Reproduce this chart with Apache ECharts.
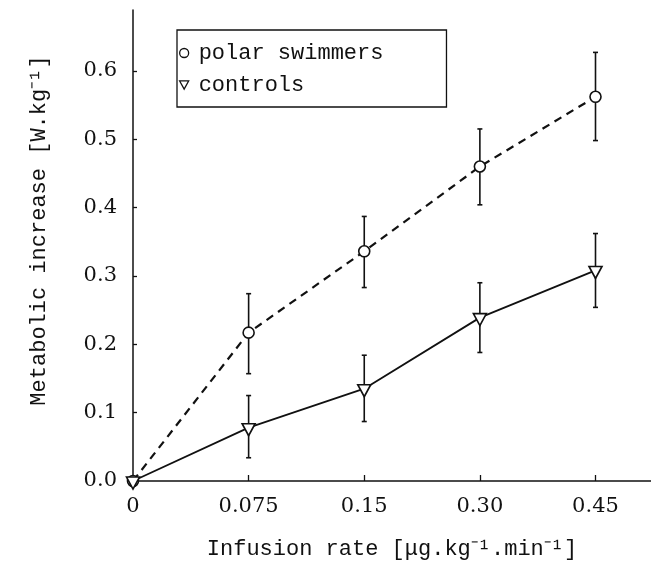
<!DOCTYPE html>
<html>
<head>
<meta charset="utf-8">
<script src="https://cdn.jsdelivr.net/npm/echarts@6/dist/echarts.min.js"></script>
<style>html,body{margin:0;padding:0;background:#fff;}#c{width:651px;height:570px;}</style>
</head>
<body>
<div id="c"></div>
<script>
// Category positions (equally spaced in the original figure)
var categories = ['0', '0.075', '0.15', '0.30', '0.45'];
var yTicks = [0, 0.1, 0.2, 0.3, 0.4, 0.5, 0.6];

var polarMean = [0, 0.217, 0.336, 0.460, 0.562];
var polarLow  = [null, 0.157, 0.283, 0.404, 0.498];
var polarHigh = [null, 0.274, 0.387, 0.515, 0.627];

var controlMean = [0, 0.078, 0.135, 0.239, 0.308];
var controlLow  = [null, 0.034, 0.087, 0.188, 0.254];
var controlHigh = [null, 0.125, 0.184, 0.290, 0.362];

var FONT = 'DejaVu Serif';
var MONO = 'Liberation Mono';
var INK = '#111';
var downTri = 'path://M0,0L10,0L5,9Z';

function pts(arr) { return arr.map(function (v, i) { return [i, v]; }); }
function errs(lo, hi) {
  var out = [];
  for (var i = 0; i < lo.length; i++) if (lo[i] != null) out.push([i, lo[i], hi[i]]);
  return out;
}
function errRender(params, api) {
  var x = api.value(0);
  var a = api.coord([x, api.value(1)]);
  var b = api.coord([x, api.value(2)]);
  var st = { stroke: INK, lineWidth: 1.6 };
  return { type: 'group', children: [
    { type: 'line', shape: { x1: a[0], y1: a[1], x2: b[0], y2: b[1] }, style: st },
    { type: 'line', shape: { x1: a[0] - 2.5, y1: a[1], x2: a[0] + 2.5, y2: a[1] }, style: st },
    { type: 'line', shape: { x1: b[0] - 2.5, y1: b[1], x2: b[0] + 2.5, y2: b[1] }, style: st }
  ]};
}

var chart = echarts.init(document.getElementById('c'), null, { renderer: 'canvas' });
chart.setOption({
  backgroundColor: '#fff',
  animation: false,
  grid: { left: 133, right: 0, top: 10, bottom: 89, containLabel: false },
  xAxis: {
    type: 'value', min: 0, max: 4.48,
    axisLine: { lineStyle: { color: INK, width: 1.5 } },
    axisTick: { inside: true, length: 6, lineStyle: { color: INK, width: 1.3 }, customValues: [0, 1, 2, 3, 4] },
    axisLabel: {
      customValues: [0, 1, 2, 3, 4],
      formatter: function (v) { return categories[Math.round(v)]; },
      fontFamily: FONT, fontSize: 21, color: INK, margin: 15
    },
    splitLine: { show: false },
    name: 'Infusion rate [\u03bcg.kg\u207b\u00b9.min\u207b\u00b9]',
    nameLocation: 'middle', nameGap: 57,
    nameTextStyle: { fontFamily: MONO, fontSize: 22, color: INK }
  },
  yAxis: {
    type: 'value', min: 0, max: 0.689,
    axisLine: { show: true, lineStyle: { color: INK, width: 1.5 } },
    axisTick: { show: true, inside: true, length: 4, lineStyle: { color: INK, width: 1.3 }, customValues: yTicks },
    axisLabel: {
      customValues: yTicks,
      formatter: function (v) { return v.toFixed(1); },
      fontFamily: FONT, fontSize: 21, color: INK, margin: 16
    },
    splitLine: { show: false },
    name: 'Metabolic increase [W.kg\u207b\u00b9]',
    nameLocation: 'middle', nameGap: 83,
    nameTextStyle: { fontFamily: MONO, fontSize: 22, color: INK, padding: [0, 0, 0, 30] }
  },
  legend: {
    left: 177, top: 30, orient: 'vertical',
    padding: [12, 63, 11, 2], itemGap: 10,
    itemWidth: 9, itemHeight: 9,
    borderColor: INK, borderWidth: 1.3,
    textStyle: { fontFamily: MONO, fontSize: 22, color: INK, padding: [0, 0, 0, 5] },
    itemStyle: { color: '#fff', borderColor: INK, borderWidth: 1.3 },
    data: [
      { name: 'polar swimmers', icon: 'circle' },
      { name: 'controls', icon: downTri }
    ]
  },
  series: [
    { type: 'custom', name: 'polarErr', renderItem: errRender, data: errs(polarLow, polarHigh), z: 1, silent: true },
    { type: 'custom', name: 'controlErr', renderItem: errRender, data: errs(controlLow, controlHigh), z: 1, silent: true },
    {
      type: 'line', name: 'polar swimmers', data: pts(polarMean), z: 3,
      symbol: 'circle', symbolSize: 11, clip: false,
      lineStyle: { color: INK, width: 2.2, type: [8, 6] },
      itemStyle: { color: '#fff', borderColor: INK, borderWidth: 1.6 }
    },
    {
      type: 'line', name: 'controls', data: pts(controlMean), z: 3,
      symbol: downTri, symbolSize: [13, 12], symbolOffset: [0, 2], clip: false,
      lineStyle: { color: INK, width: 1.8 },
      itemStyle: { color: '#fff', borderColor: INK, borderWidth: 1.6 }
    }
  ]
});
</script>
</body>
</html>
